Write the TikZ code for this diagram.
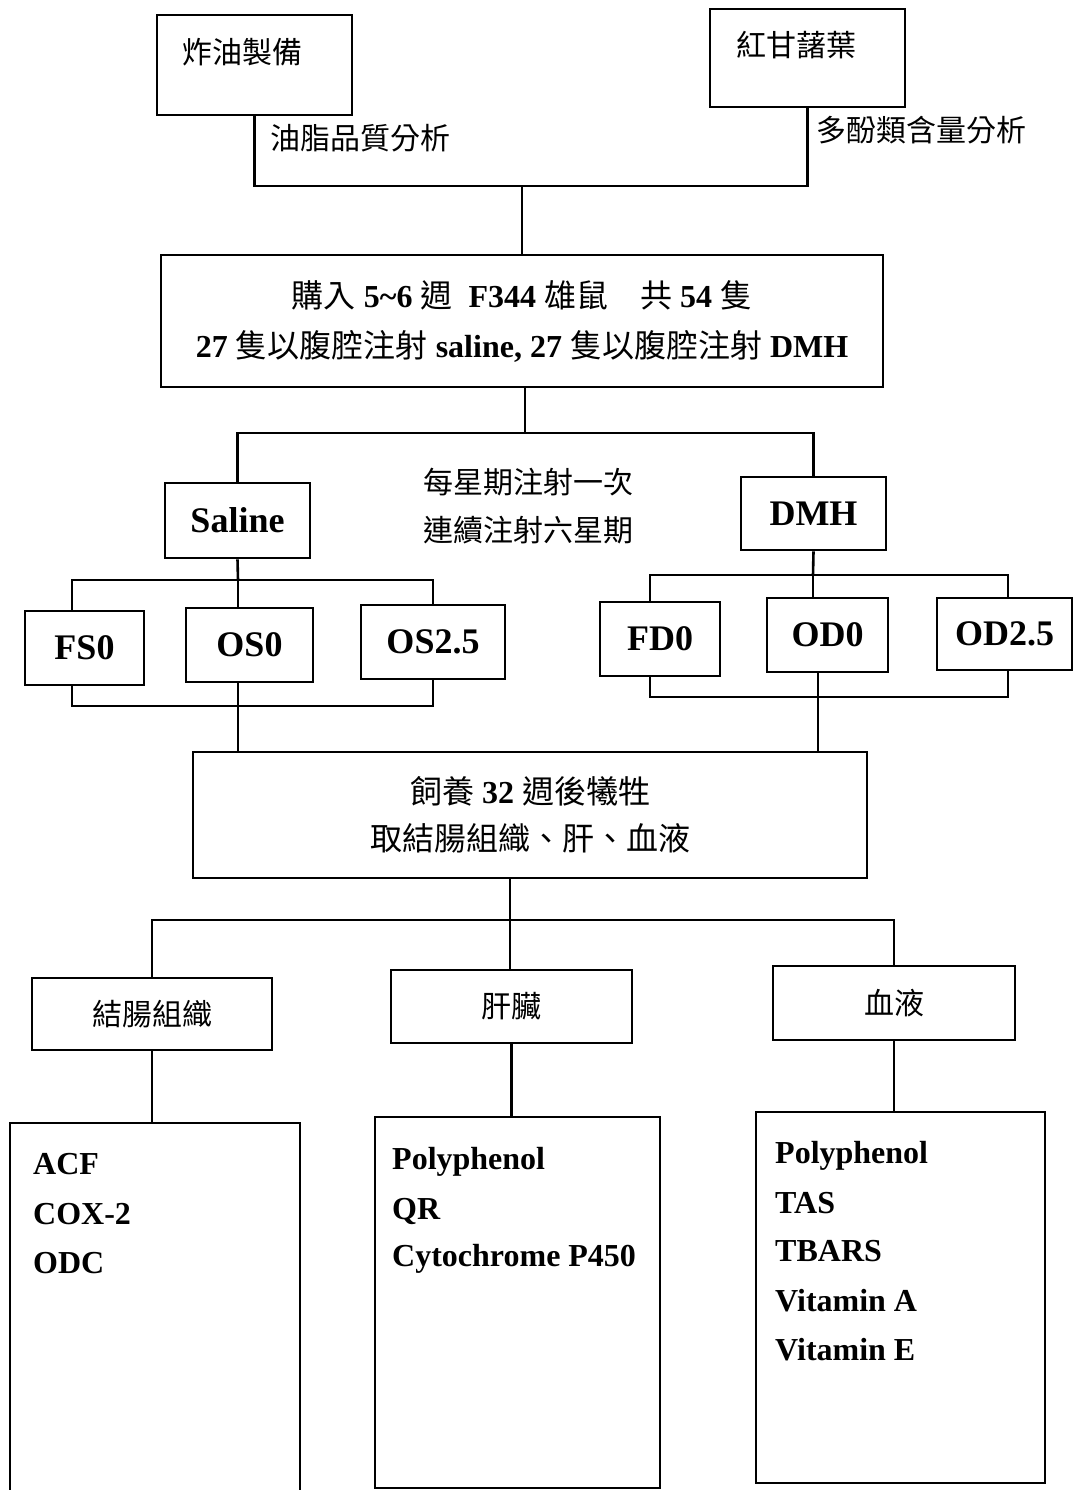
\documentclass[tikz,border=0pt]{standalone}
\usepackage{fontspec}
\setmainfont{Liberation Serif}
\newfontfamily\cjk{Noto Sans CJK TC}
\begin{document}
\begin{tikzpicture}[x=1pt,y=-1pt,
  box/.style={draw,line width=2.6pt,inner sep=0pt},
  conn/.style={line width=2.6pt},
  cj/.style={font=\cjk\fontsize{30}{36}\selectfont,inner sep=0pt},
  lat/.style={font=\bfseries\fontsize{36}{40}\selectfont},
  mix/.style={font=\bfseries\fontsize{32}{50}\selectfont,align=center},
  item/.style={font=\bfseries\fontsize{32}{36}\selectfont,anchor=base west,inner sep=0pt}]
\useasboundingbox (0,0) rectangle (1074,1490);
% top boxes
\node[box,minimum width=195pt,minimum height=100pt] (zy) at (254.5,65) {};
\node[cj] (zyt) at (242,52) {炸油製備};
\node[cj] (zyl) at (360,138) {油脂品質分析};
\node[box,minimum width=195pt,minimum height=98pt] (hy) at (807.5,58) {};
\node[cj] (hyt) at (796,45) {紅甘藷葉};
\node[cj] (hyl) at (921,130) {多酚類含量分析};
% box 3
\node[box,mix,minimum width=722pt,minimum height=132pt] (b3) at (522,321)
  {{\cjk\mdseries 購入} 5\textasciitilde6 {\cjk\mdseries 週}\ \ F344 {\cjk\mdseries 雄鼠}\quad{\cjk\mdseries 共} 54 {\cjk\mdseries 隻}\\
   27 {\cjk\mdseries 隻以腹腔注射} saline, 27 {\cjk\mdseries 隻以腹腔注射} DMH};
% saline / dmh
\node[box,lat,minimum width=145pt,minimum height=75pt] (sal) at (237.5,520.5) {Saline};
\node[box,lat,minimum width=145pt,minimum height=73pt] (dmh) at (813.5,513.5) {DMH};
\node[cj,align=center,font=\cjk\fontsize{30}{48}\selectfont] (inj) at (528,506) {每星期注射一次\\連續注射六星期};
% groups
\node[box,lat,minimum width=119pt,minimum height=74pt] (fs0) at (84.5,648) {FS0};
\node[box,lat,minimum width=127pt,minimum height=74pt] (os0) at (249.5,645) {OS0};
\node[box,lat,minimum width=144pt,minimum height=74pt] (os25) at (433,642) {OS2.5};
\node[box,lat,minimum width=120pt,minimum height=74pt] (fd0) at (660,639) {FD0};
\node[box,lat,minimum width=121pt,minimum height=74pt] (od0) at (827.5,635) {OD0};
\node[box,lat,minimum width=135pt,minimum height=72pt] (od25) at (1004.5,634) {OD2.5};
% sacrifice box
\node[box,mix,font=\bfseries\fontsize{32}{47}\selectfont,minimum width=674pt,minimum height=126pt] (big) at (530,815)
  {{\cjk\mdseries 飼養} 32 {\cjk\mdseries 週後犧牲}\\{\cjk\mdseries 取結腸組織、肝、血液}};
% tissue boxes
\node[box,cj,minimum width=240pt,minimum height=72pt] (colon) at (152,1014) {結腸組織};
\node[box,cj,minimum width=241pt,minimum height=73pt] (liver) at (511.5,1006.5) {肝臟};
\node[box,cj,minimum width=242pt,minimum height=74pt] (blood) at (894,1003) {血液};
% list boxes
\node[box,minimum width=290pt,minimum height=380pt] (colonL) at (155,1313) {};
\node[box,minimum width=285pt,minimum height=371pt] (liverL) at (517.5,1302.5) {};
\node[box,minimum width=289pt,minimum height=371pt] (bloodL) at (900.5,1297.5) {};
\node[item] (c1) at (33,1174) {ACF};
\node[item] (c2) at (33,1224) {COX-2};
\node[item] (c3) at (33,1273) {ODC};
\node[item] (l1) at (392,1169) {Polyphenol};
\node[item] (l2) at (392,1219) {QR};
\node[item] (l3) at (392,1266) {Cytochrome P450};
\node[item] (r1) at (775,1163) {Polyphenol};
\node[item] (r2) at (775,1213) {TAS};
\node[item] (r3) at (775,1261) {TBARS};
\node[item] (r4) at (775,1311) {Vitamin A};
\node[item] (r5) at (775,1360) {Vitamin E};
% connectors
\coordinate (ja) at (522,186);
\draw[conn] (zy.south) |- (ja) -| (hy.south);
\draw[conn] (ja) -- (b3.north);
\coordinate (jb) at (525,433);
\draw[conn] (b3.south -| jb) -- (jb);
\draw[conn] (sal.north) |- (jb) -| (dmh.north);
\coordinate (jc) at (238,580);
\draw[conn] (sal.south) -- (jc);
\draw[conn] ([xshift=-12.5pt]fs0.north) |- (jc) -| (os25.north);
\draw[conn] (jc) -- (jc |- os0.north);
\coordinate (jd) at (238,706);
\draw[conn] ([xshift=-12.5pt]fs0.south) |- (jd) -| (os25.south);
\draw[conn] (jd |- os0.south) -- (jd |- big.north);
\coordinate (je) at (813,575);
\draw[conn] (dmh.south) -- (je);
\draw[conn] ([xshift=-10pt]fd0.north) |- (je) -| ([xshift=3.5pt]od25.north);
\draw[conn] (je) -- (je |- od0.north);
\coordinate (jf) at (818,697);
\draw[conn] ([xshift=-10pt]fd0.south) |- (jf) -| ([xshift=3.5pt]od25.south);
\draw[conn] (jf |- od0.south) -- (jf |- big.north);
\coordinate (jg) at (510,920);
\draw[conn] (jg |- big.south) -- (jg);
\draw[conn] (colon.north) |- (jg) -| (blood.north);
\draw[conn] (jg) -- (jg |- liver.north);
\draw[conn] (colon.south) -- (colon.south |- colonL.north);
\draw[conn] (liver.south) -- (liver.south |- liverL.north);
\draw[conn] (blood.south) -- (blood.south |- bloodL.north);
\end{tikzpicture}
\end{document}
